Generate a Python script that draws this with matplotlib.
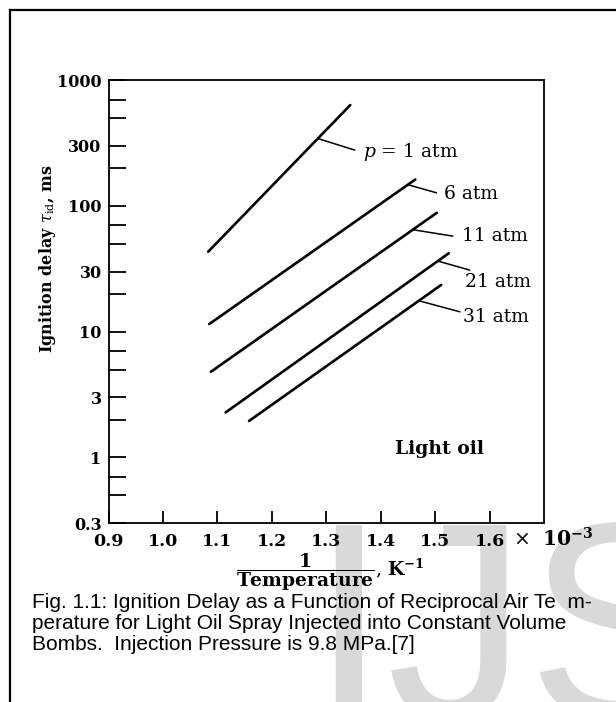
import numpy as np
import matplotlib
matplotlib.use('Agg')
import matplotlib.pyplot as plt

plt.rcParams['font.family'] = ['DejaVu Serif']
plt.rcParams['mathtext.fontset'] = 'dejavuserif'

# data (1/T in 1e-3 K^-1, ignition delay in ms)
labels = ['$p$ = 1 atm', '6 atm', '11 atm', '21 atm', '31 atm']
inv_t_start = [1.083, 1.085, 1.088, 1.115, 1.158]
inv_t_end = [1.344, 1.4635, 1.503, 1.525, 1.511]
tau_start = [43.2, 11.5, 4.80, 2.28, 1.95]
tau_end = [632, 162, 88, 42, 23.5]

x_ticks = [0.9, 1.0, 1.1, 1.2, 1.3, 1.4, 1.5, 1.6]
y_ticks = [0.3, 1, 3, 10, 30, 100, 300, 1000]
y_tick_labels = ['0.3', '1', '3', '10', '30', '100', '300', '1000']
y_minor = [0.5, 0.7, 2, 5, 7, 20, 50, 70, 200, 500, 700]

# label placement (fraction along line for leader start, leader end, text anchor)
lead_frac = [0.772, 0.964, 0.894, 0.951, 0.884]
lead_end = [(1.352, 277.7), (1.502, 127.1), (1.532, 57.5), (1.563, 30.9), (1.545, 14.4)]
text_pos = [(1.367, 269), (1.517, 124.1), (1.550, 57.5), (1.554, 24.9), (1.552, 13.1)]

fig = plt.figure(figsize=(6.16, 7.02), dpi=100)

# page border
fig.add_artist(plt.Line2D([10 / 616, 10 / 616], [0, 1 - 10 / 702], color='black', lw=1.6))
fig.add_artist(plt.Line2D([10 / 616, 1], [1 - 10 / 702, 1 - 10 / 702], color='black', lw=1.6))

# watermark behind everything
fig.text(309 / 616, 1 - 718 / 702, 'IJS', family='Liberation Sans', fontsize=202,
         color='#d9d9d9', ha='left', va='baseline', zorder=-5)

ax = fig.add_axes([0.1763, 0.2546, 0.7068, 0.6314])
ax.patch.set_alpha(0)
ax.set_yscale('log')
ax.set_xlim(0.9, 1.7)
ax.set_ylim(0.3, 1000)

for i in range(len(labels)):
    ax.plot([inv_t_start[i], inv_t_end[i]], [tau_start[i], tau_end[i]],
            color='black', lw=1.9, solid_capstyle='round')
    t = lead_frac[i]
    xl = inv_t_start[i] + t * (inv_t_end[i] - inv_t_start[i])
    yl = 10 ** (np.log10(tau_start[i]) + t * (np.log10(tau_end[i]) - np.log10(tau_start[i])))
    ax.plot([xl, lead_end[i][0]], [yl, lead_end[i][1]], color='black', lw=1.1)
    ax.text(text_pos[i][0], text_pos[i][1], labels[i], fontsize=13.5,
            ha='left', va='center')

ax.text(1.508, 1.17, 'Light oil', fontsize=13.5, fontweight='bold', ha='center', va='center')

ax.set_xticks(x_ticks)
ax.set_xticklabels(['%.1f' % v for v in x_ticks], fontsize=12.5, fontweight='bold')
ax.set_yticks(y_ticks)
ax.set_yticklabels(y_tick_labels, fontsize=11.5, fontweight='bold')
ax.set_yticks(y_minor, minor=True)
ax.yaxis.set_minor_formatter(plt.NullFormatter())
ax.tick_params(axis='y', which='both', direction='in', length=12, width=1.3, pad=5)
ax.tick_params(axis='x', which='both', direction='in', length=8.5, width=1.3, pad=7)
for s in ax.spines.values():
    s.set_linewidth(1.3)

ax.text(0.929, -0.035, r'$\times\ \ \mathbf{10^{-3}}$', transform=ax.transAxes,
        fontsize=14.5, ha='left', va='center')

ax.set_ylabel(r'Ignition delay $\tau_{\mathrm{id}}$, ms', fontsize=11.5, fontweight='bold')
ax.yaxis.set_label_coords(-0.116, 0.598)
ax.set_xlabel(r'$\mathbf{\dfrac{1}{Temperature}}$, $\mathbf{K^{-1}}$', fontsize=13.5,
              va='top')
ax.xaxis.set_label_coords(0.509, -0.063)

caption = ('Fig. 1.1: Ignition Delay as a Function of Reciprocal Air Te  m-\n'
           'perature for Light Oil Spray Injected into Constant Volume\n'
           'Bombs.  Injection Pressure is 9.8 MPa.[7]')
fig.text(32 / 616, 1 - 593 / 702, caption, family='Liberation Sans', fontsize=15,
         ha='left', va='top', linespacing=1.13)

fig.savefig('out.png', dpi=100)
